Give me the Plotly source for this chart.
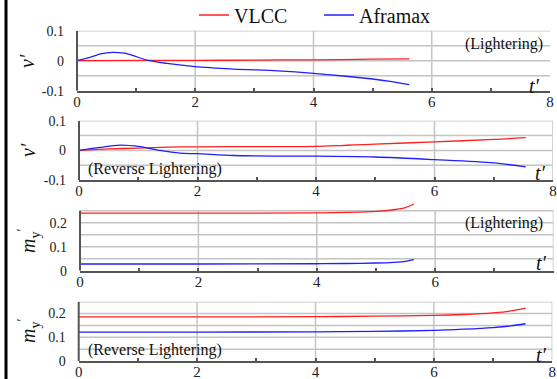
import plotly.graph_objects as go

# ---------------- data ----------------
# Panel 1: v' (Lightering)
p1_vlcc_t = [0, 1, 2, 3, 4, 5, 5.62]
p1_vlcc_v = [0, 0.001, 0.001, 0.002, 0.003, 0.005, 0.006]
p1_afra_t = [0, 0.2, 0.4, 0.6, 0.8, 0.95, 1.18, 1.52, 2.0, 2.65, 3.4, 4.0, 4.5, 5.0, 5.3, 5.62]
p1_afra_v = [0, 0.010, 0.023, 0.028, 0.025, 0.017, 0.002, -0.009, -0.020, -0.028, -0.034, -0.042, -0.051, -0.061, -0.069, -0.080]

# Panel 2: v' (Reverse Lightering)
p2_vlcc_t = [0, 0.5, 1, 1.5, 2, 3, 4, 5, 6, 7, 7.54]
p2_vlcc_v = [0, 0.005, 0.008, 0.011, 0.012, 0.013, 0.014, 0.021, 0.029, 0.037, 0.043]
p2_afra_t = [0, 0.35, 0.69, 1.03, 1.37, 1.7, 2.0, 2.6, 3.4, 4.0, 5.0, 6.0, 7.0, 7.54]
p2_afra_v = [0, 0.010, 0.018, 0.013, 0.000, -0.009, -0.011, -0.017, -0.019, -0.019, -0.022, -0.031, -0.042, -0.055]

# Panel 3: m_y' (Lightering)
p3_vlcc_t = [0, 2, 4, 4.5, 5, 5.3, 5.5, 5.64]
p3_vlcc_m = [0.240, 0.240, 0.241, 0.243, 0.247, 0.254, 0.263, 0.278]
p3_afra_t = [0, 2, 4, 4.5, 5, 5.3, 5.5, 5.64]
p3_afra_m = [0.028, 0.028, 0.029, 0.030, 0.032, 0.035, 0.039, 0.046]

# Panel 4: m_y' (Reverse Lightering)
p4_vlcc_t = [0, 2, 4, 5, 6, 6.5, 7, 7.3, 7.55]
p4_vlcc_m = [0.186, 0.186, 0.187, 0.189, 0.192, 0.196, 0.203, 0.211, 0.223]
p4_afra_t = [0, 2, 4, 5, 6, 6.5, 7, 7.3, 7.55]
p4_afra_m = [0.122, 0.122, 0.123, 0.125, 0.129, 0.134, 0.141, 0.148, 0.157]

series_names = ["VLCC", "Aframax"]
x_ticks = [0, 2, 4, 6, 8]
v_ticks = [-0.1, 0, 0.1]
v_tick_text = ["-0.1", "0", "0.1"]
m_ticks = [0, 0.1, 0.2]
m_tick_text = ["0", "0.1", "0.2"]

# ---------------- style ----------------
W, H = 557, 379
RED = "#ff1f1f"
BLUE = "#1f1fff"
GRID = "#c4c4c4"
AXIS = "#555555"
FONT = "Liberation Serif, serif"

def px_x(p):
    return p / W

def px_y(p):
    return 1 - p / H

panels = [
    dict(x=(77, 550), y=(30.7, 90.7), frame=[-0.1, 0.1], top=0.1, tv=v_ticks, tt=v_tick_text,
         data=[(p1_vlcc_t, p1_vlcc_v), (p1_afra_t, p1_afra_v)], right=False),
    dict(x=(79, 553), y=(120.7, 180.2), frame=[-0.1, 0.1], top=0.1, tv=v_ticks, tt=v_tick_text,
         data=[(p2_vlcc_t, p2_vlcc_v), (p2_afra_t, p2_afra_v)], right=True),
    dict(x=(80, 553.5), y=(210.7, 270.7), frame=[0, 0.25], top=0.285, tv=m_ticks, tt=m_tick_text,
         data=[(p3_vlcc_t, p3_vlcc_m), (p3_afra_t, p3_afra_m)], right=True),
    dict(x=(78.7, 552.3), y=(301.7, 361.0), frame=[0, 0.25], top=0.25, tv=m_ticks, tt=m_tick_text,
         data=[(p4_vlcc_t, p4_vlcc_m), (p4_afra_t, p4_afra_m)], right=True),
]

fig = go.Figure()
layout = dict(
    width=W, height=H, margin=dict(l=0, r=0, t=0, b=0, autoexpand=False),
    paper_bgcolor="white", plot_bgcolor="rgba(0,0,0,0)",
    font=dict(family=FONT, size=14, color="#222222"),
    showlegend=True,
    legend=dict(orientation="h", x=px_x(194), y=px_y(15), xanchor="left", yanchor="middle",
                font=dict(family=FONT, size=20, color="#111111"), entrywidth=80,
                bgcolor="rgba(0,0,0,0)", itemwidth=30, tracegroupgap=0),
)
shapes = []
colors = [RED, BLUE]
for i, p in enumerate(panels):
    n = i + 1
    xa = "x" if n == 1 else f"x{n}"
    ya = "y" if n == 1 else f"y{n}"
    f0, f1 = p["frame"]
    ptop, pbot = p["y"]
    pix_per_unit = (pbot - ptop) / (f1 - f0)
    dom_top_px = pbot - (p["top"] - f0) * pix_per_unit
    for j, (t, v) in enumerate(p["data"]):
        fig.add_trace(go.Scatter(
            x=t, y=v, mode="lines", name=series_names[j],
            line=dict(color=colors[j], width=1.3, shape="spline", smoothing=0.8),
            xaxis=xa, yaxis=ya, showlegend=(n == 1), hoverinfo="skip"))
    layout[f"xaxis{'' if n == 1 else n}"] = dict(
        domain=[px_x(p["x"][0]), px_x(p["x"][1])], anchor=ya, range=[0, 8],
        tickvals=x_ticks, ticktext=[str(v) for v in x_ticks],
        showgrid=False,
        showline=True, linecolor=AXIS, linewidth=2,
        ticks="inside", ticklen=3, tickcolor=AXIS, tickwidth=1.5,
        ticklabelstandoff=-4, automargin=False,
        minor=dict(tickvals=[1, 3, 5, 7], ticks="inside", ticklen=3, tickcolor=AXIS, tickwidth=1.5,
                   showgrid=False),
        tickfont=dict(family=FONT, size=15, color="#222222"),
        zeroline=False, fixedrange=True)
    layout[f"yaxis{'' if n == 1 else n}"] = dict(
        domain=[px_y(pbot), px_y(dom_top_px)], anchor=xa, range=[f0, p["top"]],
        tickvals=p["tv"], ticktext=p["tt"],
        showgrid=False, showline=False, ticks="",
        ticklabelstandoff=12, automargin=False,
        tickfont=dict(family=FONT, size=14, color="#222222"),
        zeroline=False, fixedrange=True)
    # horizontal grid lines every 0.05 inside the frame (incl. top edge)
    k = 1
    while f0 + 0.05 * k <= f1 + 1e-9:
        yv = round(f0 + 0.05 * k, 4)
        shapes.append(dict(type="line", xref=f"{xa} domain", yref=ya,
                           x0=0, x1=1, y0=yv, y1=yv, line=dict(color=GRID, width=1.5), layer="below"))
        k += 1
    # vertical grid lines at 2, 4, 6 (and 8 as right frame)
    for xv in ([2, 4, 6, 8] if p["right"] else [2, 4, 6]):
        shapes.append(dict(type="line", xref=xa, yref=ya,
                           x0=xv, x1=xv, y0=f0, y1=f1, line=dict(color=GRID, width=1.5), layer="below"))
    # left axis line
    shapes.append(dict(type="line", xref=f"{xa} domain", yref=ya,
                       x0=0, x1=0, y0=f0, y1=f1, line=dict(color=AXIS, width=2), layer="above"))

shapes.append(dict(type="line", xref="paper", yref="paper", x0=px_x(6), x1=px_x(6), y0=0, y1=1,
                   line=dict(color="black", width=3)))
layout["shapes"] = shapes

ann = []
def add_ann(text, x, y, size, xanchor="center", angle=0):
    ann.append(dict(text=text, x=px_x(x), y=px_y(y), xref="paper", yref="paper",
                    xanchor=xanchor, yanchor="middle", showarrow=False, textangle=angle,
                    font=dict(family=FONT, size=size, color="#111111")))

add_ann("(Lightering)", 545, 44, 16, "right")
add_ann("(Reverse Lightering)", 86, 169.5, 16, "left")
add_ann("(Lightering)", 545, 222.5, 16, "right")
add_ann("(Reverse Lightering)", 86, 349.5, 16, "left")
for (x, y) in [(534, 86), (540, 173), (541, 263), (541, 355)]:
    add_ann("<i>t′</i>", x, y, 20)
add_ann("<i>v′</i>", 27, 61, 20, angle=-90)
add_ann("<i>v′</i>", 28, 150, 20, angle=-90)
add_ann("<i>m</i><sub>y</sub><sup>′</sup>", 29, 241, 20, angle=-90)
add_ann("<i>m</i><sub>y</sub><sup>′</sup>", 29, 331, 20, angle=-90)
layout["annotations"] = ann

fig.update_layout(**layout)
fig.write_html("out.html")
